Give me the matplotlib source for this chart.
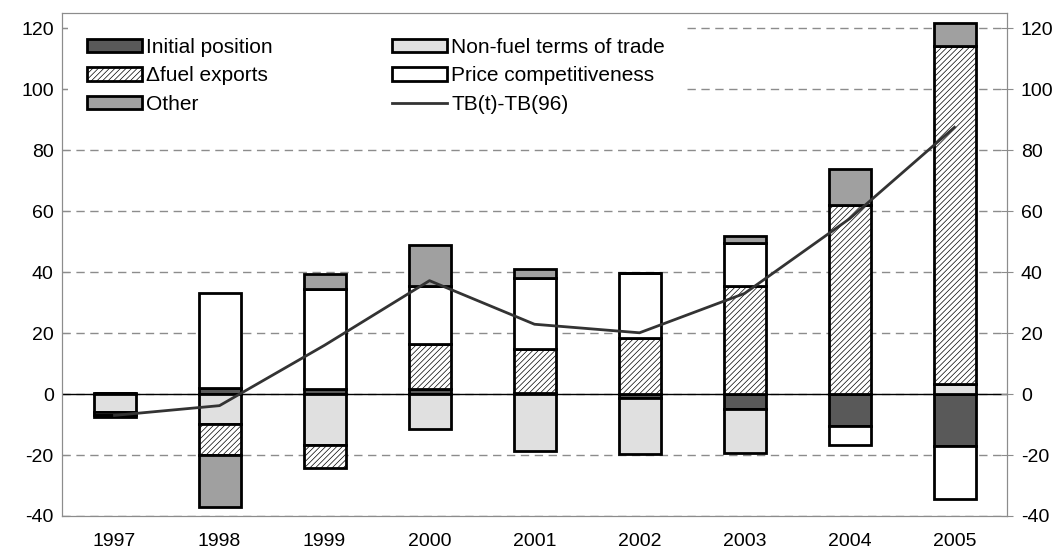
import matplotlib
matplotlib.use("Agg")
import matplotlib.pyplot as plt
import numpy as np
from matplotlib.patches import Patch
from matplotlib.lines import Line2D

plt.rcParams['font.family'] = ['Liberation Sans', 'DejaVu Sans']
plt.rcParams['hatch.linewidth'] = 0.5
plt.rcParams['hatch.color'] = '#444444'
plt.rcParams['axes.unicode_minus'] = False

years = ['1997', '1998', '1999', '2000', '2001', '2002', '2003', '2004', '2005']
initial = [0.5, 2.0, 1.5, 1.6, 0.3, -1.2, -5.0, -10.4, -17.1]
nonfuel = [-6.0, -9.9, -16.6, -11.6, -18.6, -18.3, -14.3, 0.0, 3.2]
fuel = [0.0, -10.2, -7.5, 14.7, 14.4, 18.3, 35.5, 62.0, 111.1]
price = [-1.0, 31.2, 33.0, 19.3, 23.3, 21.3, 14.2, -6.2, -17.4]
other = [-0.4, -17.1, 5.0, 13.3, 3.0, 0.0, 2.3, 11.8, 7.4]
tb = [-7.0, -3.8, 16.0, 37.2, 22.9, 20.1, 33.0, 57.5, 87.5]

series = [
    ("Initial position", initial, dict(facecolor='#595959')),
    ("Non-fuel terms of trade", nonfuel, dict(facecolor='#e0e0e0')),
    ("\u0394fuel exports", fuel, dict(facecolor='white', hatch='//////')),
    ("Price competitiveness", price, dict(facecolor='white')),
    ("Other", other, dict(facecolor='#a0a0a0')),
]

fig = plt.figure(figsize=(10.63, 5.56), dpi=100)
ax = fig.add_axes([62/1063, 1-516/556, (1007-62)/1063, (516-13)/556])

x = np.arange(len(years))
pos = np.zeros(len(years))
neg = np.zeros(len(years))
handles = {}
for name, vals, style in series:
    v = np.array(vals, dtype=float)
    bottoms = np.where(v >= 0, pos, neg)
    ax.bar(x, v, 0.4, bottom=bottoms, edgecolor='black', linewidth=2, zorder=3, **style)
    pos = pos + np.where(v >= 0, v, 0)
    neg = neg + np.where(v < 0, v, 0)
    handles[name] = Patch(edgecolor='black', linewidth=2, **style)

ax.plot(x, tb, color='#333333', linewidth=2, zorder=4)
ax.axhline(0, color='black', linewidth=1, zorder=2)

ax.set_xlim(-0.5, len(years) - 0.5)
ax.set_ylim(-40, 125)
ax.set_yticks(np.arange(-40, 121, 20))
ax.set_xticks(x)
ax.set_xticklabels(years)
ax.yaxis.grid(True, linestyle=(0, (6, 4)), color='#8c8c8c', linewidth=1, zorder=1)
ax.set_axisbelow(True)
for s in ax.spines.values():
    s.set_color('#8c8c8c')
ax.tick_params(axis='y', direction='in', length=5, color='#8c8c8c', labelsize=14, pad=6)
ax.tick_params(axis='x', length=0, labelsize=14, pad=12)

ax2 = ax.twinx()
ax2.set_ylim(ax.get_ylim())
ax2.set_yticks(np.arange(-40, 121, 20))
ax2.tick_params(axis='y', direction='inout', length=8, color='#8c8c8c', labelsize=14, pad=6)
for s in ax2.spines.values():
    s.set_color('#8c8c8c')

tbline = Line2D([0], [0], color='#333333', linewidth=2)
order = ["Initial position", "\u0394fuel exports", "Other", "Non-fuel terms of trade", "Price competitiveness"]
hl = [handles[n] for n in order] + [tbline]
labels = order + ["TB(t)-TB(96)"]
leg = ax.legend(hl, labels, ncol=2, loc='upper left', bbox_to_anchor=(0.0, 1.0),
                frameon=True, framealpha=1, facecolor='white', edgecolor='none',
                fontsize=15, handlelength=2.65, handleheight=0.6, handletextpad=0.2,
                columnspacing=5.7, labelspacing=0.45, borderaxespad=0.3, borderpad=0.9)
leg.set_zorder(5)

fig.savefig('out.png', dpi=100)
